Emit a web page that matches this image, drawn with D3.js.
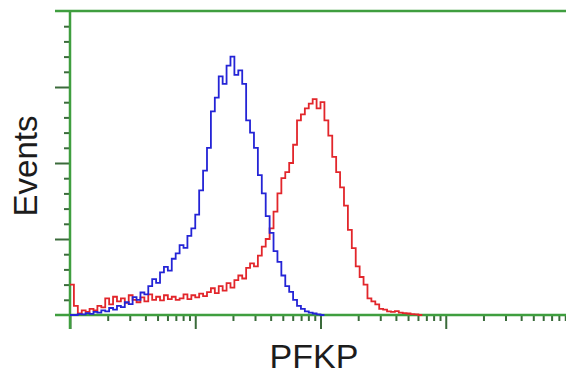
<!DOCTYPE html>
<html>
  <head>
    <title>PFKP histogram</title>
  </head>
  <body style="margin:0;background:#fff">
<meta charset="utf-8">
<script src="https://d3js.org/d3.v7.min.js"></script>
<div id="my_dataviz"></div>
<script>

// histogram channels: 128 bins across 4 log decades
const nBins = 128
const decades = [1, 10, 100, 1000, 10000]
const yTicks = [0, 25, 50, 75, 100]

// counts per channel, starting at channel 0
const blueCounts = [0, 0, 0.3, 0.2, 0.6, 0.4, 1.0, 0.8, 1.5, 1.2,
  2.3, 1.8, 3.0, 2.6, 4.2, 3.6, 5.9, 5.0, 7.4, 6.8,
  9.5, 11.8, 10.6, 14.0, 15.8, 14.6, 18.5, 20.3, 23.0, 22.1,
  26.0, 28.5, 33.0, 41.0, 47.5, 55.0, 67.0, 71.5, 78.5, 76.0,
  82.0, 85.0, 79.0, 80.5, 76.0, 64.0, 60.0, 55.0, 46.0, 40.0,
  32.5, 27.0, 21.0, 17.5, 13.0, 9.5, 7.6, 5.0, 3.0, 2.0,
  1.2, 0.8, 0.5, 0.2, 0]

const redCounts = [10.0, 3.0, 0.5, 1.5, 1.0, 2.0, 1.5, 3.0, 2.5, 5.5,
  3.5, 6.0, 4.5, 5.5, 4.0, 6.5, 5.0, 4.2, 5.8, 4.5,
  6.8, 5.0, 6.0, 4.8, 6.5, 5.2, 6.0, 5.0, 5.5, 6.8,
  5.2, 6.5, 5.8, 7.0, 6.2, 7.5, 8.8, 7.2, 9.5, 8.0,
  10.5, 9.0, 11.5, 13.0, 12.0, 15.5, 17.0, 16.0, 19.5, 22.5,
  25.0, 28.5, 34.0, 40.0, 45.0, 47.0, 50.0, 56.0, 64.0, 66.0,
  68.0, 69.5, 71.0, 68.0, 70.0, 64.0, 59.0, 52.0, 47.0, 42.0,
  36.0, 28.0, 22.0, 16.0, 12.5, 10.0, 5.5, 4.5, 3.5, 2.0,
  1.8, 1.2, 1.0, 1.3, 0.8, 0.6, 0.5, 0.3, 0.2, 0]

const width = 566, height = 377

const svg = d3.select("#my_dataviz")
  .append("svg")
  .attr("width", width)
  .attr("height", height)

const x = d3.scaleLog()
  .domain([1, 10000])
  .range([70, 571])

const y = d3.scaleLinear()
  .domain([0, 100])
  .range([315, 11])

const axisGreen = "#3f9e3f"
const tickColor = "#3b6b3b"

// channel -> intensity
const chan = c => Math.pow(10, 4 * c / nBins)

// minor x ticks
const minorX = []
decades.slice(0, -1).forEach(d => { for (let k = 2; k <= 9; k++) minorX.push(d * k) })

svg.append("g")
  .attr("transform", `translate(0, ${y(0)})`)
  .call(d3.axisBottom(x).tickValues(minorX).tickSize(6).tickFormat(""))
  .call(g => g.select(".domain").remove())
  .call(g => g.selectAll("line").attr("stroke", tickColor).attr("stroke-width", 2))

svg.append("g")
  .attr("transform", `translate(0, ${y(0)})`)
  .call(d3.axisBottom(x).tickValues(decades).tickSize(14).tickFormat(""))
  .call(g => g.select(".domain").remove())
  .call(g => g.selectAll("line").attr("stroke", tickColor).attr("stroke-width", 2))

// y ticks
const minorY = d3.range(0, 101, 5).filter(v => v % 25 != 0)
svg.append("g")
  .attr("transform", `translate(70, 0)`)
  .call(d3.axisLeft(y).tickValues(minorY).tickSize(6).tickFormat(""))
  .call(g => g.select(".domain").remove())
  .call(g => g.selectAll("line").attr("stroke", tickColor).attr("stroke-width", 2))

svg.append("g")
  .attr("transform", `translate(70, 0)`)
  .call(d3.axisLeft(y).tickValues(yTicks.slice(1, -1)).tickSize(15).tickFormat(""))
  .call(g => g.select(".domain").remove())
  .call(g => g.selectAll("line").attr("stroke", tickColor).attr("stroke-width", 2))

// frame lines
svg.append("line")
  .attr("x1", 55).attr("x2", width).attr("y1", y(100)).attr("y2", y(100))
  .attr("stroke", axisGreen).attr("stroke-width", 2.5)
svg.append("line")
  .attr("x1", 55).attr("x2", width).attr("y1", y(0)).attr("y2", y(0))
  .attr("stroke", axisGreen).attr("stroke-width", 2.5)
svg.append("line")
  .attr("x1", x(1)).attr("x2", x(1)).attr("y1", y(100)).attr("y2", y(0) + 14)
  .attr("stroke", axisGreen).attr("stroke-width", 2.5)

// histogram lines
const histLine = d3.line()
  .x(d => x(chan(d[0])))
  .y(d => y(d[1]))
  .curve(d3.curveStepAfter)

function histPoints(counts) {
  const pts = counts.map((v, i) => [i, v])
  pts.push([counts.length, 0])
  return pts
}

svg.append("path")
  .datum(histPoints(redCounts))
  .attr("fill", "none")
  .attr("stroke", "#e2262b")
  .attr("stroke-width", 1.8)
  .attr("d", histLine)

svg.append("path")
  .datum(histPoints(blueCounts))
  .attr("fill", "none")
  .attr("stroke", "#2424d6")
  .attr("stroke-width", 1.8)
  .attr("d", histLine)

// axis labels
svg.append("text")
  .attr("x", 314)
  .attr("y", 368)
  .attr("text-anchor", "middle")
  .style("font-family", "Liberation Sans, Arial, sans-serif")
  .style("font-size", "34px")
  .style("fill", "#1c1c1c")
  .text("PFKP")

svg.append("text")
  .attr("transform", "translate(37, 166) rotate(-90)")
  .attr("text-anchor", "middle")
  .style("font-family", "Liberation Sans, Arial, sans-serif")
  .style("font-size", "33px")
  .style("fill", "#1c1c1c")
  .text("Events")

</script>
</body>
</html>
